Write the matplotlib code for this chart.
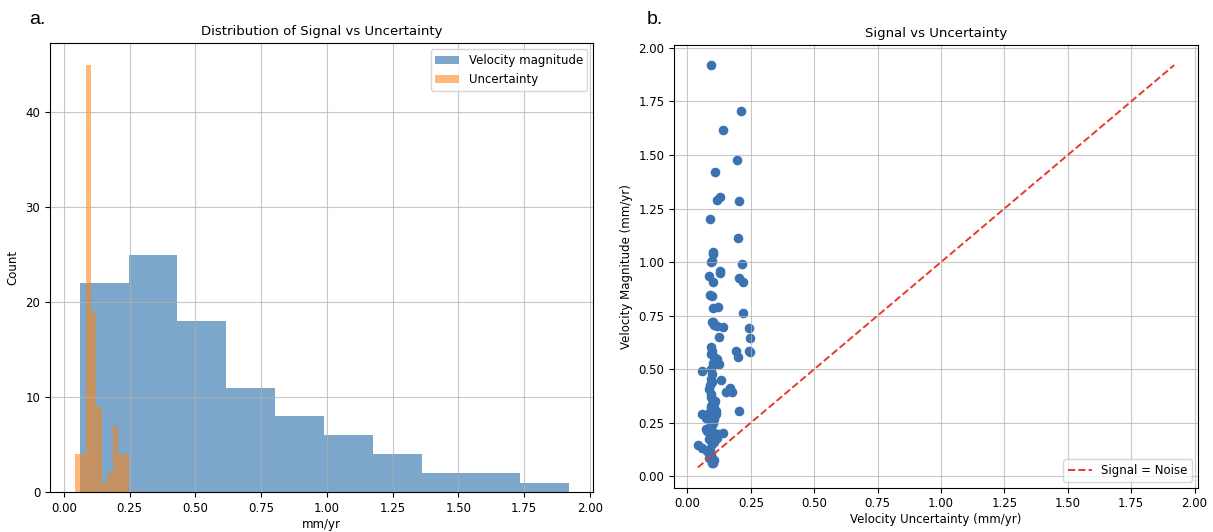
import numpy as np
import matplotlib
matplotlib.use('Agg')
import matplotlib.pyplot as plt


# velocity uncertainty (x) and velocity magnitude (y) per station, mm/yr
uncertainty = [
    0.094, 0.212, 0.141, 0.197, 0.108, 0.115, 0.130, 0.204, 0.087,
    0.198, 0.100, 0.101, 0.094, 0.214, 0.095,
    0.128, 0.130, 0.083, 0.204, 0.219, 0.100, 0.089, 0.095,
    0.100, 0.121, 0.219, 0.095, 0.100, 0.106, 0.115, 0.140, 0.241, 0.124, 0.247,
    0.241, 0.193, 0.199, 0.091, 0.098, 0.094, 0.104, 0.117, 0.124, 0.104,
    0.059, 0.091, 0.098, 0.094, 0.134, 0.096, 0.247, 0.100,
    0.169, 0.176, 0.150, 0.203, 0.085, 0.091, 0.098, 0.104, 0.091, 0.111,
    0.098, 0.085, 0.059, 0.072, 0.104, 0.083, 0.088, 0.094, 0.100, 0.108,
    0.093, 0.107, 0.112, 0.090, 0.101,
    0.072, 0.078, 0.104, 0.120, 0.140, 0.117, 0.041, 0.059, 0.078, 0.091,
    0.085, 0.104, 0.098, 0.100, 0.095, 0.088, 0.092, 0.086, 0.105, 0.098,
    0.090, 0.094,
]
velocity = [
    1.920, 1.705, 1.617, 1.477, 1.423, 1.288, 1.303, 1.284, 1.202,
    1.113, 1.048, 1.040, 1.000, 0.993, 1.005,
    0.958, 0.950, 0.934, 0.925, 0.909, 0.906, 0.847, 0.840,
    0.784, 0.792, 0.762, 0.718, 0.722, 0.706, 0.700, 0.697, 0.690, 0.652, 0.645,
    0.583, 0.586, 0.559, 0.602, 0.586, 0.570, 0.555, 0.547, 0.523, 0.523,
    0.492, 0.500, 0.477, 0.456, 0.449, 0.440, 0.578, 0.530,
    0.414, 0.394, 0.394, 0.305, 0.406, 0.383, 0.360, 0.336, 0.320, 0.305,
    0.289, 0.281, 0.289, 0.270, 0.266, 0.297, 0.425, 0.372, 0.348, 0.352,
    0.330, 0.310, 0.290, 0.258, 0.250,
    0.219, 0.211, 0.203, 0.195, 0.203, 0.180, 0.148, 0.133, 0.117, 0.102,
    0.086, 0.078, 0.063, 0.060, 0.240, 0.230, 0.165, 0.172, 0.160, 0.150,
    0.125, 0.095,
]


def plot_histograms(ax, vel, unc):
    ax.hist(vel, bins=10, alpha=0.7, color='steelblue', label='Velocity magnitude')
    ax.hist(unc, bins=10, alpha=0.55, color='tab:orange', label='Uncertainty')
    ax.set_title('Distribution of Signal vs Uncertainty', fontsize=9.5)
    ax.set_xlabel('mm/yr', fontsize=8.5, labelpad=2)
    ax.set_ylabel('Count', fontsize=8.5)
    ax.legend(fontsize=8.5, loc='upper right')
    ax.grid(True, alpha=0.7)
    ax.tick_params(labelsize=8.5)


def plot_signal_noise(ax, vel, unc):
    ax.scatter(unc, vel, s=35, color='#3a72b2')
    lo = min(unc.min(), vel.min())
    hi = max(unc.max(), vel.max())
    ax.plot([lo, hi], [lo, hi], '--', color='#e8392f', linewidth=1.4, label='Signal = Noise')
    ax.set_title('Signal vs Uncertainty', fontsize=9.5)
    ax.set_xlabel('Velocity Uncertainty (mm/yr)', fontsize=8.5, labelpad=2)
    ax.set_ylabel('Velocity Magnitude (mm/yr)', fontsize=8.5)
    ax.legend(fontsize=8.5, loc='lower right')
    ax.grid(True, alpha=0.7)
    ax.tick_params(labelsize=8.5)


def main():
    vel = np.array(velocity)
    unc = np.array(uncertainty)

    fig = plt.figure(figsize=(12.13, 5.32), dpi=100)
    ax1 = fig.add_axes([0.0412, 0.0744, 0.448, 0.844])
    ax2 = fig.add_axes([0.5557, 0.0835, 0.432, 0.832])

    plot_histograms(ax1, vel, unc)
    plot_signal_noise(ax2, vel, unc)

    fig.text(0.024, 0.955, 'a.', fontsize=14, family='Liberation Sans')
    fig.text(0.533, 0.955, 'b.', fontsize=14, family='Liberation Sans')

    fig.savefig('out.png', dpi=100)


if __name__ == '__main__':
    main()
